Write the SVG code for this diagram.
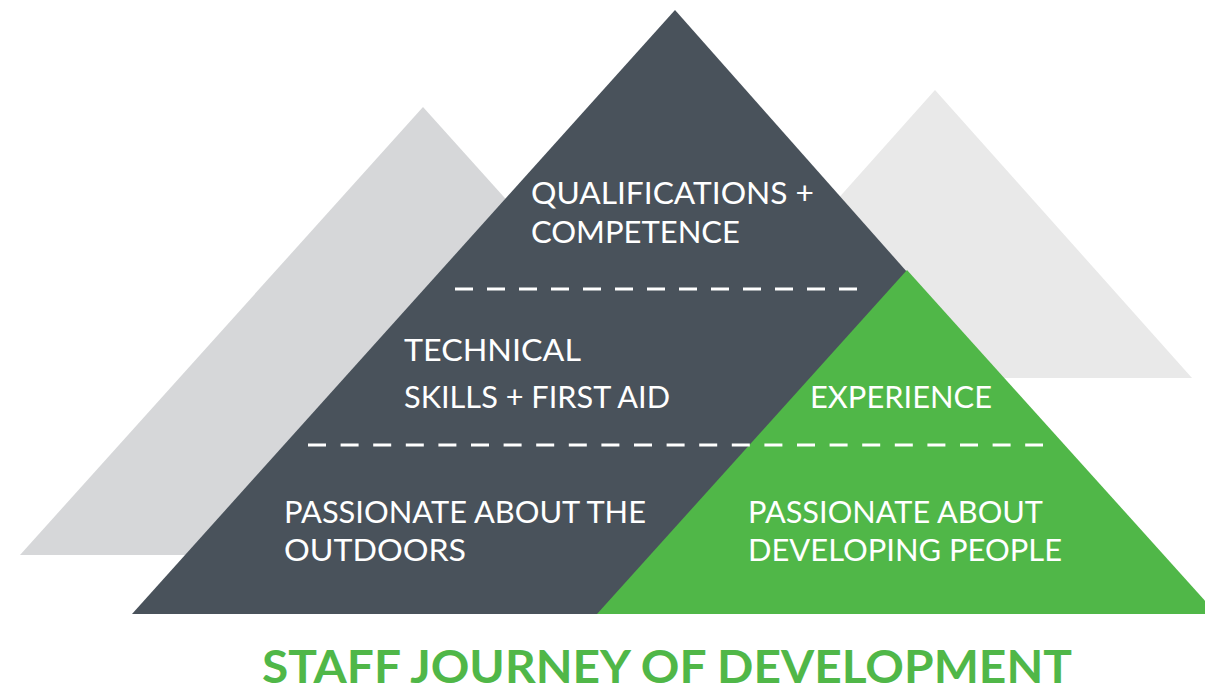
<svg xmlns="http://www.w3.org/2000/svg" width="1205" height="691" viewBox="0 0 1205 691">
  <style>
    .lbl { font-family: "Lato", "Open Sans", "Liberation Sans", sans-serif; font-size: 30px; fill: #ffffff; }
    .title { font-family: "Lato", "Open Sans", "Liberation Sans", sans-serif; font-size: 45px; font-weight: bold; fill: #50b748; }
    .dash { stroke: #ffffff; stroke-width: 3; fill: none; }
  </style>
  <rect width="1205" height="691" fill="#ffffff"/>
  <g id="mountain-left">
    <polygon points="423,107 20,555 826,555" fill="#d6d7d9"/>
  </g>
  <g id="mountain-right">
    <polygon points="935,90 678,378 1192,378" fill="#e9e9e9"/>
  </g>
  <g id="pyramid-dark">
    <polygon points="675,10 132,614 1210,614" fill="#49525b"/>
  </g>
  <g id="pyramid-green">
    <polygon points="907,270 597,614 1217,614" fill="#50b748"/>
  </g>
  <g id="connectors">
    <line class="dash" x1="455" y1="289" x2="860" y2="289" stroke-dasharray="18 14"/>
    <line class="dash" x1="308" y1="445" x2="1043" y2="445" stroke-dasharray="18 14.6"/>
  </g>
  <g id="node-qualifications">
    <text class="lbl" x="531" y="204" textLength="283" lengthAdjust="spacingAndGlyphs">QUALIFICATIONS +</text>
    <text class="lbl" x="531" y="243" textLength="209" lengthAdjust="spacingAndGlyphs">COMPETENCE</text>
  </g>
  <g id="node-technical">
    <text class="lbl" x="404" y="361" textLength="177" lengthAdjust="spacingAndGlyphs">TECHNICAL</text>
    <text class="lbl" x="404" y="408" textLength="266" lengthAdjust="spacingAndGlyphs">SKILLS + FIRST AID</text>
  </g>
  <g id="node-experience">
    <text class="lbl" x="810" y="408" textLength="182" lengthAdjust="spacingAndGlyphs">EXPERIENCE</text>
  </g>
  <g id="node-outdoors">
    <text class="lbl" x="284" y="523" textLength="362" lengthAdjust="spacingAndGlyphs">PASSIONATE ABOUT THE</text>
    <text class="lbl" x="284" y="561" textLength="182" lengthAdjust="spacingAndGlyphs">OUTDOORS</text>
  </g>
  <g id="node-people">
    <text class="lbl" x="748" y="523" textLength="295" lengthAdjust="spacingAndGlyphs">PASSIONATE ABOUT</text>
    <text class="lbl" x="748" y="561" textLength="314" lengthAdjust="spacingAndGlyphs">DEVELOPING PEOPLE</text>
  </g>
  <g id="title">
    <text class="title" x="262" y="683" textLength="810" lengthAdjust="spacingAndGlyphs">STAFF JOURNEY OF DEVELOPMENT</text>
  </g>
</svg>
